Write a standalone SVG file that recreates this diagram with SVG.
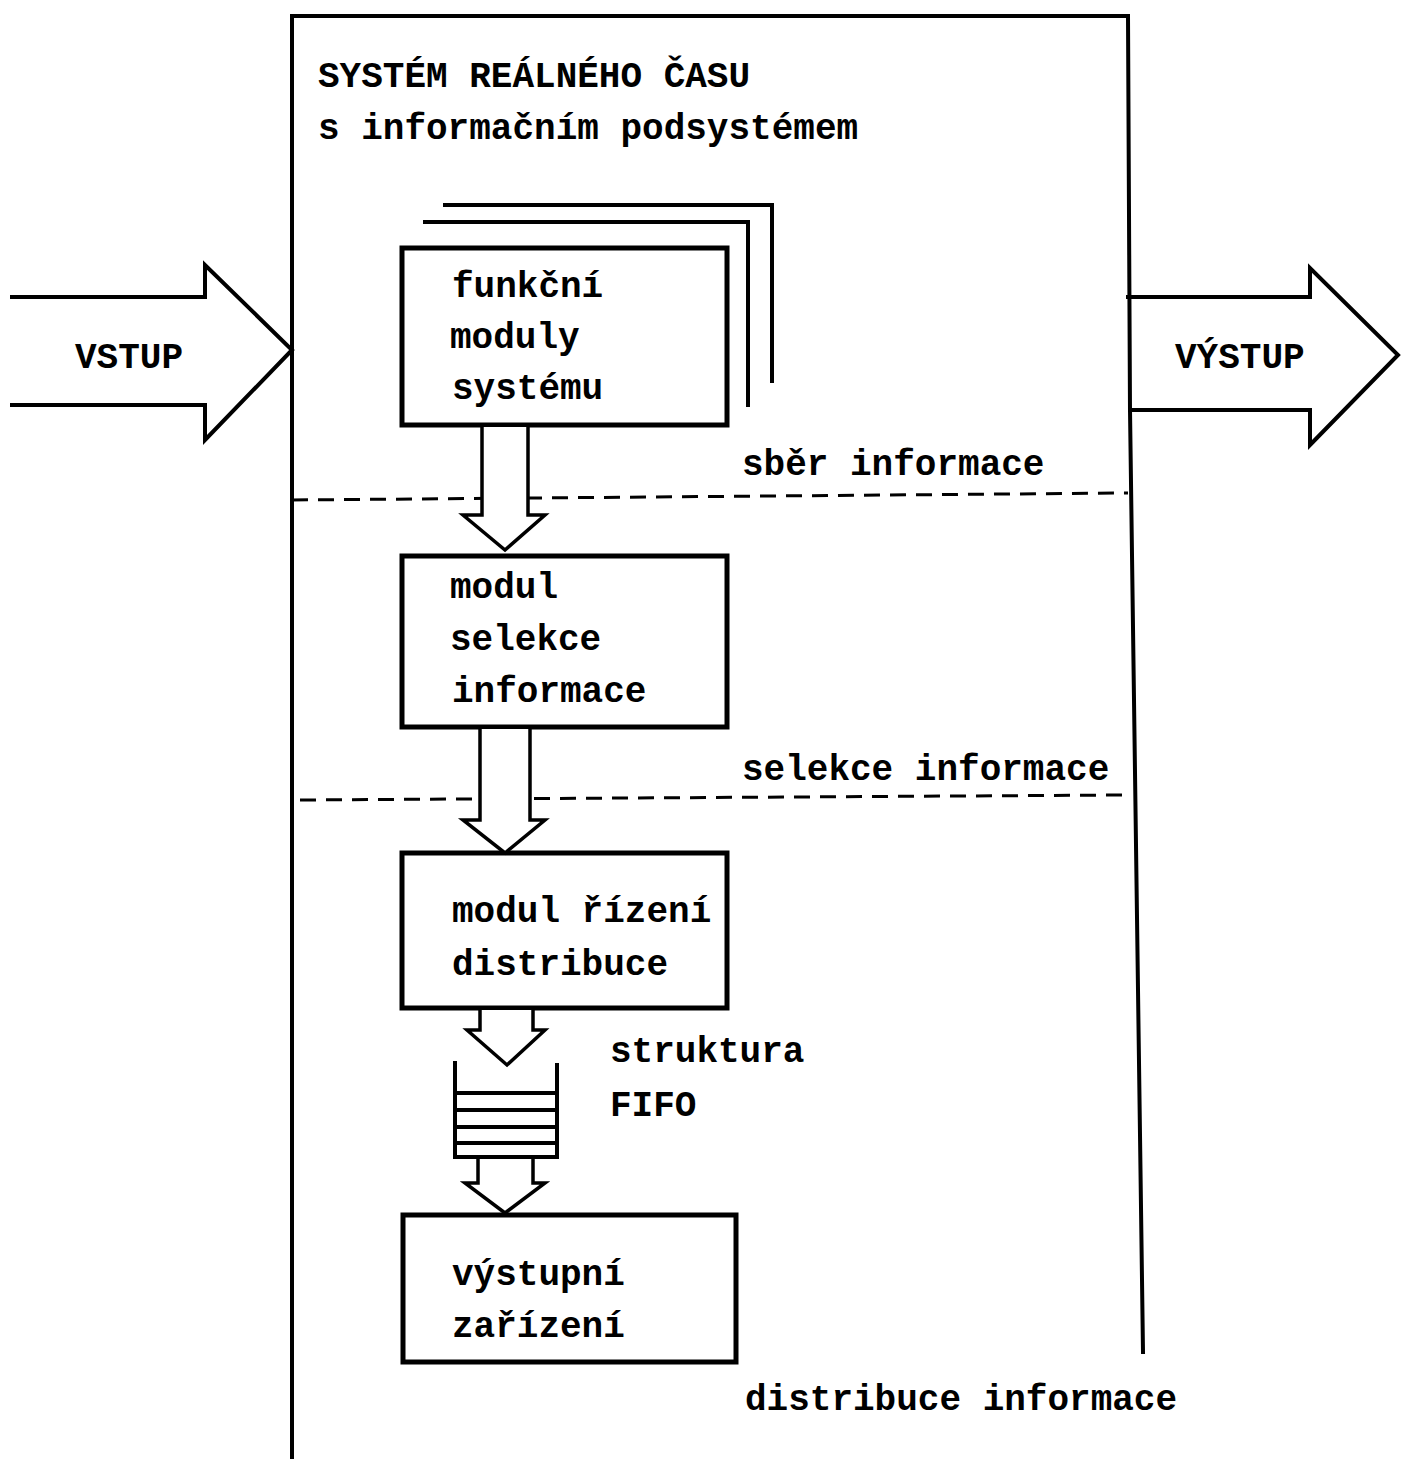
<svg xmlns="http://www.w3.org/2000/svg" width="1401" height="1459" viewBox="0 0 1401 1459">
<style>
.t{font-family:"Liberation Mono","Courier New",monospace;font-weight:bold;font-size:36px;fill:#000}
.ln{fill:none;stroke:#000;stroke-width:4;stroke-linejoin:miter;stroke-linecap:square}
.box{fill:#fff;stroke:#000;stroke-width:5}
.ar{fill:#fff;stroke:#000;stroke-width:3.5;stroke-linejoin:miter}
.dash{fill:none;stroke:#000;stroke-width:3;stroke-dasharray:16 10}
</style>
<rect width="1401" height="1459" fill="#fff"/>
<g id="system">
<path class="ln" d="M292,1459 L292,16 L1128,16 L1130,410 L1143,1352"/>
<text class="t" x="318" y="87">SYSTÉM REÁLNÉHO ČASU</text>
<text class="t" x="318" y="139">s informačním podsystémem</text>
</g>
<g id="vstup">
<path class="ln" d="M12,297 L205,297 L205,265 L292,350 L205,440 L205,405 L12,405"/>
<text class="t" x="75" y="368">VSTUP</text>
</g>
<g id="vystup">
<path class="ln" d="M1128,297 L1310,297 L1310,268 L1398,355 L1310,445 L1310,410 L1130,410"/>
<text class="t" x="1175" y="368">VÝSTUP</text>
</g>
<g id="phases">
<path class="dash" d="M292,500 L1128,493"/>
<path class="dash" d="M300,800 L1122,795"/>
<text class="t" x="742" y="475">sběr informace</text>
<text class="t" x="742" y="780">selekce informace</text>
<text class="t" x="745" y="1410">distribuce informace</text>
</g>
<g id="funkcni-moduly">
<path class="ln" d="M445,205 L772,205 L772,381"/>
<path class="ln" d="M425,222 L748,222 L748,405"/>
<rect class="box" x="402" y="248" width="325" height="177"/>
<text class="t" x="452" y="297">funkční</text>
<text class="t" x="450" y="348">moduly</text>
<text class="t" x="452" y="399">systému</text>
</g>
<g id="modul-selekce">
<rect class="box" x="402" y="556" width="325" height="171"/>
<text class="t" x="450" y="598">modul</text>
<text class="t" x="450" y="650">selekce</text>
<text class="t" x="452" y="702">informace</text>
</g>
<g id="modul-rizeni">
<rect class="box" x="402" y="853" width="325" height="155"/>
<text class="t" x="452" y="922">modul řízení</text>
<text class="t" x="452" y="975">distribuce</text>
</g>
<g id="fifo">
<path class="ln" d="M455,1063 L455,1157 L557,1157 L557,1065"/>
<path class="ln" d="M455,1093 L557,1093 M455,1110 L557,1110 M455,1127 L557,1127 M455,1143 L557,1143"/>
<text class="t" x="610" y="1062">struktura</text>
<text class="t" x="610" y="1116">FIFO</text>
</g>
<g id="vystupni-zarizeni">
<rect class="box" x="403" y="1215" width="333" height="147"/>
<text class="t" x="452" y="1285">výstupní</text>
<text class="t" x="452" y="1337">zařízení</text>
</g>
<g id="connectors">
<path class="ar" d="M482,427 L482,515 L463,515 L505,550 L545,515 L528,515 L528,427"/>
<path class="ar" d="M480,729 L480,820 L463,820 L505,853 L545,820 L530,820 L530,729"/>
<path class="ar" d="M480,1010 L480,1030 L467,1030 L507,1065 L545,1030 L533,1030 L533,1010"/>
<path class="ar" d="M478,1159 L478,1183 L465,1183 L505,1213 L545,1183 L533,1183 L533,1159"/>
</g>
</svg>
